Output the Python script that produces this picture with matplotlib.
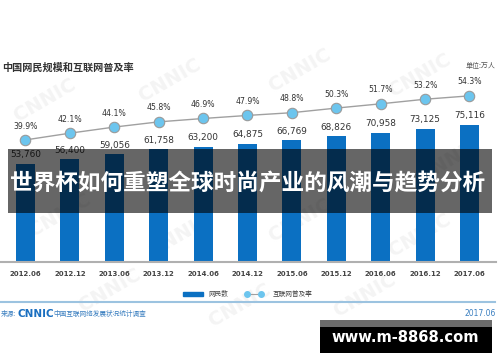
import matplotlib
matplotlib.use("Agg")
import matplotlib.pyplot as plt
from matplotlib.patches import Rectangle
from matplotlib.lines import Line2D

plt.rcParams['font.family'] = ['Noto Sans CJK SC', 'DejaVu Sans']

categories = ["2012.06", "2012.12", "2013.06", "2013.12", "2014.06", "2014.12",
              "2015.06", "2015.12", "2016.06", "2016.12", "2017.06"]
users = [53760, 56400, 59056, 61758, 63200, 64875, 66769, 68826, 70958, 73125, 75116]
rate = [39.9, 42.1, 44.1, 45.8, 46.9, 47.9, 48.8, 50.3, 51.7, 53.2, 54.3]

title = "中国网民规模和互联网普及率"
unit = "单位:万人"
legend_bar = "网民数"
legend_line = "互联网普及率"
source_prefix = "来源:"
source_logo = "CNNIC"
source_text = "中国互联网络发展状况统计调查"
date_text = "2017.06"
banner_text = "世界杯如何重塑全球时尚产业的风潮与趋势分析"
site_text = "www.m-8868.com"

BAR = "#0b70c2"
MK = "#6cc5ee"
W, H = 500, 362
fig = plt.figure(figsize=(W / 100, H / 100), dpi=100)


def fx(x):
    return x / W


def fy(y):
    return 1 - y / H


# faint background watermarks
for (wx, wy) in [(45, 100), (170, 80), (300, 70), (420, 75), (60, 215), (180, 235),
                 (300, 220), (420, 235), (110, 290), (240, 305), (365, 295), (450, 160)]:
    fig.text(fx(wx), fy(wy), "CNNIC", fontsize=14, fontweight='bold', color='#f4f4f4',
             rotation=30, ha='center', va='center', zorder=-1, family='DejaVu Sans')

ax = fig.add_axes([fx(0), fy(262), fx(496), (262 - 70) / H])
ax.set_zorder(1)
ax.patch.set_alpha(0)
x = list(range(len(categories)))
ax.bar(x, users, width=0.43, color=BAR, zorder=2)
ax.set_xlim(-0.574, 10.597)
ax.set_ylim(0, 105263)
for s in ['top', 'right', 'left']:
    ax.spines[s].set_visible(False)
ax.spines['bottom'].set_color('#b0b0b0')
ax.spines['bottom'].set_linewidth(1.5)
ax.set_yticks([])
ax.set_xticks(x)
ax.set_xticklabels(categories, fontsize=5, color='#444444', fontweight='bold', family='DejaVu Sans')
ax.tick_params(axis='x', length=0, pad=6.5)
for xi, v in zip(x, users):
    ax.annotate(f"{v:,}", (xi, v), xytext=(0, 6.5), textcoords='offset points',
                ha='center', va='center', fontsize=6.4, color='#333333', family='DejaVu Sans')

ax2 = ax.twinx()
ax2.set_ylim(0, 62.75)
ax2.axis('off')
ax2.plot(x, rate, color='#a0a0a0', lw=1.0, marker='o', ms=7.5, mfc=MK, mec='#9a9a9a', mew=0.8, zorder=3)
for xi, v in zip(x, rate):
    ax2.annotate(f"{v}%", (xi, v), xytext=(0, 10), textcoords='offset points',
                 ha='center', va='center', fontsize=5.6, color='#333333', family='DejaVu Sans')

# titles
fig.text(fx(2), fy(68), title, fontsize=7.3, fontweight='bold', color='#333333', ha='left', va='center')
fig.text(fx(496), fy(66), unit, fontsize=5, color='#555555', ha='right', va='center')

# legend
fig.add_artist(Rectangle((fx(183), fy(296)), fx(20), 4 / H, transform=fig.transFigure, color=BAR))
fig.text(fx(208), fy(293.5), legend_bar, fontsize=4.8, color='#444444', ha='left', va='center')
fig.add_artist(Line2D([fx(247), fx(261)], [fy(293.5)] * 2, transform=fig.transFigure,
                      color='#a0a0a0', lw=0.8, marker='o', ms=4, mfc=MK, mec=MK))
fig.text(fx(273), fy(293.5), legend_line, fontsize=4.8, color='#444444', ha='left', va='center')

# footer line
fig.add_artist(Line2D([fx(0), fx(495)], [fy(301.5)] * 2, transform=fig.transFigure,
                      color='#9cc3e0', lw=1.5))
fig.text(fx(1), fy(314), source_prefix, fontsize=4.8, color='#3a7fc0', ha='left', va='center')
fig.text(fx(18), fy(314), source_logo, fontsize=7.5, fontweight='bold', color='#1a6fc0',
         ha='left', va='center', family='DejaVu Sans')
fig.text(fx(53), fy(314), source_text, fontsize=4.8, color='#3a7fc0', ha='left', va='center')
fig.text(fx(496), fy(314), date_text, fontsize=5.5, color='#3a7fc0', ha='right', va='center',
         family='DejaVu Sans')

# banner overlay
fig.add_artist(Rectangle((fx(8), fy(213)), fx(484), 64 / H, transform=fig.transFigure,
                         color='black', alpha=0.6, lw=0, zorder=10))
fig.text(fx(248), fy(183), banner_text, fontsize=16.3, fontweight='bold', color='white',
         ha='center', va='center', zorder=11)

# site watermark box
fig.add_artist(Rectangle((fx(320), fy(353)), fx(172), 33 / H, transform=fig.transFigure,
                         color='black', lw=0, zorder=10))
fig.add_artist(Rectangle((fx(320), fy(326.5)), fx(172), 6.5 / H, transform=fig.transFigure,
                         color='#6b6b6b', lw=0, zorder=10))
fig.text(fx(405), fy(337.5), site_text, fontsize=10.6, fontweight='bold', color='white',
         ha='center', va='center', zorder=11, family='DejaVu Sans')

fig.savefig("out.png", dpi=100)
